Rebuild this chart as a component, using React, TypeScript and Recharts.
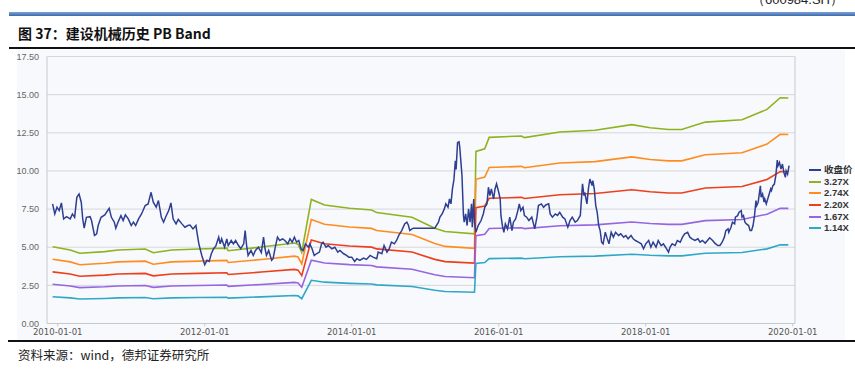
import React from "react";
import { CartesianGrid, Line, LineChart, ReferenceLine, XAxis, YAxis } from "recharts";

// 收盘价 (decimal year, price)
const closePrice: [number, number][] = [
  [2009.93, 7.84], [2009.96, 7.18], [2009.99, 7.62], [2010.02, 7.4], [2010.05, 7.9], [2010.08, 6.86],
  [2010.12, 7.0], [2010.17, 6.86], [2010.2, 7.18], [2010.23, 6.96], [2010.26, 8.27], [2010.29, 8.49],
  [2010.32, 7.95], [2010.34, 6.86], [2010.36, 6.25], [2010.39, 6.96], [2010.44, 7.0], [2010.46, 6.75],
  [2010.5, 5.77], [2010.53, 5.88], [2010.55, 6.42], [2010.59, 6.96], [2010.64, 7.12], [2010.7, 7.55],
  [2010.73, 6.96], [2010.77, 6.64], [2010.79, 6.25], [2010.82, 6.64], [2010.86, 7.07], [2010.89, 6.75],
  [2010.92, 7.12], [2010.96, 6.86], [2011.0, 6.42], [2011.03, 6.64], [2011.06, 6.42], [2011.1, 6.86],
  [2011.14, 7.18], [2011.19, 7.73], [2011.23, 7.84], [2011.27, 8.6], [2011.3, 7.95], [2011.34, 7.62],
  [2011.37, 8.06], [2011.41, 6.96], [2011.44, 6.64], [2011.47, 7.0], [2011.51, 7.4], [2011.54, 7.9],
  [2011.57, 6.86], [2011.61, 6.53], [2011.64, 6.82], [2011.69, 6.53], [2011.73, 6.31], [2011.77, 6.42],
  [2011.8, 6.45], [2011.84, 6.2], [2011.88, 6.42], [2011.9, 5.81], [2011.92, 5.22],
  [2011.96, 4.46], [2012.0, 3.85], [2012.03, 4.14], [2012.06, 4.07], [2012.09, 4.57], [2012.12, 4.9],
  [2012.15, 5.07], [2012.19, 5.66], [2012.21, 5.22], [2012.23, 5.55], [2012.27, 5.0], [2012.3, 5.55],
  [2012.32, 5.11], [2012.36, 5.44], [2012.39, 5.22], [2012.42, 5.44], [2012.46, 5.11], [2012.49, 4.9],
  [2012.53, 5.22], [2012.55, 6.09], [2012.57, 5.11], [2012.59, 4.46], [2012.63, 4.79], [2012.66, 4.46],
  [2012.69, 4.79], [2012.73, 5.0], [2012.77, 4.64], [2012.8, 5.66], [2012.82, 4.9], [2012.84, 4.46],
  [2012.87, 4.79], [2012.91, 4.14], [2012.93, 4.25], [2012.96, 5.0], [2012.99, 5.66], [2013.02, 5.44],
  [2013.06, 5.55], [2013.09, 5.44], [2013.13, 5.22], [2013.16, 5.55], [2013.19, 5.33], [2013.22, 5.66],
  [2013.25, 5.33], [2013.28, 5.44], [2013.31, 4.9], [2013.34, 4.79], [2013.37, 5.22], [2013.41, 5.0],
  [2013.43, 5.22], [2013.46, 4.9], [2013.49, 4.46], [2013.52, 4.57], [2013.56, 4.68], [2013.59, 5.22],
  [2013.61, 5.33], [2013.65, 5.0], [2013.68, 5.11], [2013.73, 4.9], [2013.77, 5.0], [2013.81, 4.68],
  [2013.84, 4.79], [2013.89, 4.57], [2013.93, 4.46], [2013.96, 4.35],
  [2014.0, 4.35], [2014.04, 4.07], [2014.07, 4.25], [2014.11, 4.14], [2014.16, 4.29], [2014.2, 4.2],
  [2014.25, 4.46], [2014.29, 4.35], [2014.34, 4.25], [2014.36, 4.68], [2014.41, 4.57], [2014.44, 5.11],
  [2014.48, 4.68], [2014.51, 4.9], [2014.54, 5.33], [2014.58, 5.22], [2014.61, 5.44], [2014.64, 5.77],
  [2014.68, 6.09], [2014.72, 6.53], [2014.75, 6.64], [2014.77, 6.46], [2014.79, 6.09], [2014.82, 6.2],
  [2014.84, 6.25], [2015.13, 6.25], [2015.18, 6.64], [2015.2, 6.97], [2015.23, 7.18], [2015.26, 7.51],
  [2015.28, 7.84], [2015.31, 7.62], [2015.33, 8.16], [2015.35, 7.84], [2015.37, 8.82], [2015.39, 9.41],
  [2015.41, 10.67], [2015.42, 10.1], [2015.44, 11.86], [2015.46, 11.91], [2015.47, 11.54], [2015.5, 9.69],
  [2015.52, 7.08], [2015.53, 6.64], [2015.55, 7.18], [2015.57, 6.42], [2015.59, 7.51], [2015.61, 6.64],
  [2015.63, 7.84], [2015.64, 6.31], [2015.66, 8.16], [2015.67, 6.64], [2015.69, 5.98], [2015.72, 6.42],
  [2015.76, 6.75], [2015.79, 7.18], [2015.81, 7.62], [2015.84, 7.84], [2015.86, 8.93], [2015.88, 8.38],
  [2015.9, 8.82], [2015.93, 8.16], [2015.95, 8.82], [2015.97, 9.15], [2016.0, 8.6],
  [2016.02, 8.16], [2016.03, 7.08], [2016.05, 6.42], [2016.07, 5.98], [2016.09, 6.53], [2016.12, 6.2],
  [2016.15, 6.97], [2016.18, 6.09], [2016.2, 6.64], [2016.23, 6.86], [2016.26, 7.4], [2016.28, 7.84],
  [2016.3, 7.4], [2016.33, 7.62], [2016.35, 7.08], [2016.38, 6.97], [2016.41, 6.75], [2016.45, 6.97],
  [2016.49, 6.2], [2016.52, 6.97], [2016.54, 7.73], [2016.58, 7.84], [2016.61, 7.62], [2016.64, 7.77],
  [2016.68, 7.84], [2016.7, 7.18], [2016.73, 6.97], [2016.77, 7.18], [2016.8, 7.08], [2016.83, 7.29],
  [2016.87, 6.97], [2016.9, 6.86], [2016.94, 6.31], [2016.97, 6.75], [2017.0, 6.97], [2017.04, 6.64],
  [2017.07, 6.75], [2017.11, 7.08], [2017.14, 9.15], [2017.16, 8.38], [2017.17, 8.6], [2017.2, 7.84],
  [2017.22, 8.82], [2017.24, 9.47], [2017.27, 9.04], [2017.28, 9.36], [2017.3, 8.82], [2017.32, 7.73],
  [2017.34, 7.29], [2017.36, 6.42], [2017.38, 6.09], [2017.4, 5.33], [2017.42, 5.22], [2017.45, 5.98],
  [2017.47, 5.66], [2017.5, 5.22], [2017.53, 5.98], [2017.56, 5.66], [2017.59, 5.98], [2017.63, 5.77],
  [2017.66, 5.88], [2017.7, 5.66], [2017.73, 5.77], [2017.76, 5.55], [2017.8, 5.77], [2017.83, 5.55],
  [2017.86, 5.44], [2017.9, 5.33], [2017.94, 5.22], [2017.97, 4.9], [2018.0, 5.22], [2018.04, 5.44],
  [2018.07, 5.0], [2018.1, 5.33], [2018.14, 5.0], [2018.17, 5.44], [2018.21, 5.11], [2018.24, 5.22],
  [2018.27, 5.0], [2018.31, 4.68], [2018.33, 5.0], [2018.36, 5.22], [2018.4, 5.11], [2018.43, 5.44],
  [2018.47, 5.33], [2018.5, 5.66], [2018.53, 5.88], [2018.57, 5.98], [2018.6, 5.66], [2018.63, 5.55],
  [2018.67, 5.44], [2018.71, 5.55], [2018.74, 5.33], [2018.77, 5.44], [2018.81, 5.27], [2018.84, 5.44],
  [2018.87, 5.62], [2018.91, 5.44], [2018.94, 5.27], [2018.98, 5.11], [2019.01, 5.11], [2019.04, 5.33],
  [2019.07, 5.66], [2019.09, 6.09], [2019.12, 6.2], [2019.13, 5.98], [2019.16, 6.31], [2019.18, 6.64],
  [2019.21, 6.53], [2019.22, 6.97], [2019.25, 7.07], [2019.27, 7.29], [2019.3, 7.4], [2019.31, 6.97],
  [2019.33, 7.07], [2019.35, 6.64], [2019.37, 6.53], [2019.4, 6.42], [2019.42, 6.09], [2019.44, 6.09],
  [2019.46, 6.42], [2019.48, 7.07], [2019.5, 8.05], [2019.51, 7.73], [2019.53, 7.95], [2019.56, 9.03],
  [2019.57, 8.27], [2019.59, 8.49], [2019.61, 7.95], [2019.62, 8.16], [2019.64, 7.84], [2019.66, 8.16],
  [2019.68, 8.49], [2019.7, 8.82], [2019.71, 8.71], [2019.73, 9.03], [2019.75, 9.14], [2019.77, 9.69],
  [2019.79, 10.71], [2019.8, 10.34], [2019.82, 10.56], [2019.84, 10.12], [2019.86, 10.45], [2019.88, 9.9],
  [2019.9, 9.58], [2019.91, 10.01], [2019.93, 9.79], [2019.95, 10.34],
];

// 每股净资产 (decimal year, BVPS) — the PB bands are multiples of it
const bookValue: [number, number][] = [
  [2009.93, 1.538], [2010.17, 1.474], [2010.3, 1.407], [2010.64, 1.44], [2010.82, 1.474],
  [2011.19, 1.492], [2011.3, 1.419], [2011.55, 1.474], [2011.92, 1.492], [2012.3, 1.511],
  [2012.32, 1.459], [2012.77, 1.532], [2013.22, 1.612], [2013.27, 1.59], [2013.32, 1.425],
  [2013.45, 2.486], [2013.63, 2.376], [2013.97, 2.309], [2014.27, 2.275], [2014.34, 2.223],
  [2014.82, 2.128], [2015.13, 1.911], [2015.27, 1.844], [2015.67, 1.798], [2015.69, 3.45],
  [2015.81, 3.502], [2015.87, 3.731], [2016.31, 3.758], [2016.35, 3.725], [2016.83, 3.838],
  [2017.31, 3.872], [2017.81, 3.985], [2018.06, 3.924], [2018.31, 3.89], [2018.49, 3.89],
  [2018.81, 4.037], [2019.31, 4.083], [2019.65, 4.291], [2019.83, 4.526], [2019.94, 4.52],
];

const bandMultiples = [3.27, 2.74, 2.2, 1.67, 1.14];
const bandColors = ["#8db31f", "#ff8c1f", "#ee3f1b", "#9566df", "#2fa8c6"];
const closeName = "收盘价";
const closeColor = "#2e3f92";

const yTicks = [0, 2.5, 5, 7.5, 10, 12.5, 15, 17.5];
const xTicks = [2010, 2012, 2014, 2016, 2018, 2020];
const xDomain: [number, number] = [2009.854, 2020.031];

const closeData = closePrice.map(([t, v]) => ({ t, v }));
const bandData = bandMultiples.map((m) => bookValue.map(([t, b]) => ({ t, v: b * m })));

const legendItems = [
  { name: closeName, color: closeColor },
  ...bandMultiples.map((m, i) => ({ name: `${m.toFixed(2)}X`, color: bandColors[i] })),
];

const cjk = '"Noto Sans CJK SC", "Noto Sans", sans-serif';

export default function App() {
  return (
    <div style={{ position: "absolute", left: 0, top: 0, width: 855, height: 386, background: "#fff", overflow: "hidden" }}>
      <div style={{ position: "absolute", right: 12, top: -9, fontFamily: "Liberation Sans, Arial, sans-serif", fontSize: 13, color: "#222" }}>
        （600984.SH）
      </div>
      <div style={{ position: "absolute", left: 9, top: 12, width: 846, height: 4, background: "linear-gradient(to bottom, #7fa3d6, #3a68ad)" }} />
      <div style={{ position: "absolute", left: 18, top: 24, fontFamily: cjk, fontSize: 14, fontWeight: 700, color: "#111", lineHeight: "18px" }}>
        图 37：建设机械历史 PB Band
      </div>
      <div style={{ position: "absolute", left: 9, top: 47, width: 846, height: 2, background: "#111" }} />
      <div style={{ position: "absolute", left: 17, top: 50, width: 828, height: 290, background: "#f8f9fc" }} />
      <div style={{ position: "absolute", left: 8, top: 340, width: 847, height: 2, background: "#111" }} />
      <div style={{ position: "absolute", left: 18, top: 347, fontFamily: cjk, fontSize: 12.5, color: "#222", lineHeight: "16px" }}>
        资料来源：wind，德邦证券研究所
      </div>

      <div style={{ position: "absolute", left: 0, top: 0 }}>
        <LineChart width={855} height={386} margin={{ top: 56.5, right: 60, bottom: 42.5, left: 7 }}>
          <CartesianGrid horizontal vertical={false} stroke="#d5d7dc" strokeWidth={1} />
          <XAxis
            dataKey="t"
            type="number"
            domain={xDomain}
            ticks={xTicks}
            allowDataOverflow
            height={20}
            tickFormatter={(v: number) => `${v}-01-01`}
            tick={{ fill: "#555", fontSize: 9.5, fontFamily: '"Liberation Sans Narrow", "DejaVu Sans Condensed", sans-serif' }}
            tickSize={3}
            tickMargin={2}
            stroke="#c5c9d0"
          />
          <YAxis
            type="number"
            domain={[0, 17.5]}
            ticks={yTicks}
            width={40}
            tickLine={false}
            tickFormatter={(v: number) => v.toFixed(2)}
            tick={{ fill: "#666", fontSize: 9, fontFamily: "Liberation Sans, Arial, sans-serif" }}
            stroke="#c5c9d0"
          />
          <ReferenceLine x={xDomain[1]} stroke="#c5c9d0" />
          {bandData.map((data, i) => (
            <Line
              key={bandMultiples[i]}
              data={data}
              dataKey="v"
              name={legendItems[i + 1].name}
              type="linear"
              stroke={bandColors[i]}
              strokeWidth={1.6}
              dot={false}
              activeDot={false}
              isAnimationActive={false}
            />
          ))}
          <Line
            data={closeData}
            dataKey="v"
            name={closeName}
            type="linear"
            stroke={closeColor}
            strokeWidth={1.5}
            dot={false}
            activeDot={false}
            isAnimationActive={false}
          />
        </LineChart>
      </div>

      <div style={{ position: "absolute", left: 809, top: 164 }}>
        {legendItems.map((item) => (
          <div key={item.name} style={{ position: "relative", height: 11.7, width: 44 }}>
            <div style={{ position: "absolute", left: 0, top: 5, width: 12, height: 2, background: item.color }} />
            <div
              style={{
                position: "absolute",
                left: 15,
                top: 1,
                height: 10,
                fontFamily: "Liberation Sans, Arial, " + cjk,
                fontSize: 9.5,
                fontWeight: 700,
                color: "#333",
                lineHeight: "10px",
                whiteSpace: "nowrap",
              }}
            >
              {item.name}
            </div>
          </div>
        ))}
      </div>
    </div>
  );
}
